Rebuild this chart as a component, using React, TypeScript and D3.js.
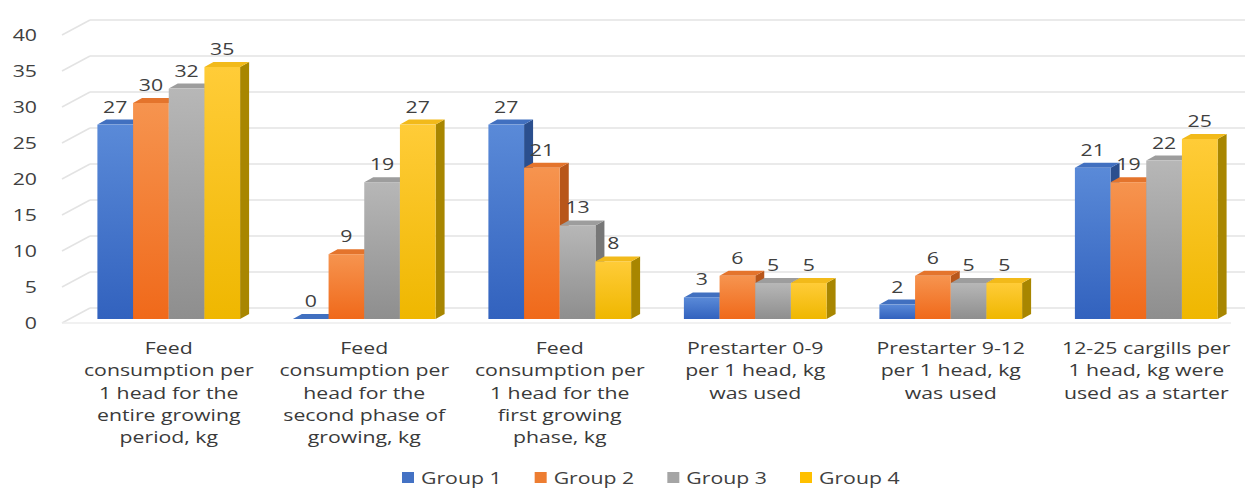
import React from "react";
import * as d3 from "d3";

// Feed consumption by group (kg)
const categories = [
  "entire",
  "second",
  "first",
  "pre09",
  "pre912",
  "starter",
];
const categoryLines: string[][] = [
  ["Feed", "consumption per", "1 head for the", "entire growing", "period, kg"],
  ["Feed", "consumption per", "head for the", "second phase of", "growing, kg"],
  ["Feed", "consumption per", "1 head for the", "first growing", "phase, kg"],
  ["Prestarter 0-9", "per 1 head, kg", "was used"],
  ["Prestarter 9-12", "per 1 head, kg", "was used"],
  ["12-25 cargills per", "1 head, kg were", "used as a starter"],
];
const groups = ["Group 1", "Group 2", "Group 3", "Group 4"];
const group1 = [27, 0, 27, 3, 2, 21];
const group2 = [30, 9, 21, 6, 6, 19];
const group3 = [32, 19, 13, 5, 5, 22];
const group4 = [35, 27, 8, 5, 5, 25];
const seriesValues = [group1, group2, group3, group4];
const yTicks = [0, 5, 10, 15, 20, 25, 30, 35, 40];

// Colors per series: legend swatch, front gradient, top face, side face
const swatch = ["#4472C4", "#ED7D31", "#A5A5A5", "#FFC000"];
const frontTop = ["#5a8ad8", "#f6944f", "#b7b7b7", "#ffcc38"];
const frontBottom = ["#3262be", "#f0691a", "#8e8e8e", "#efb700"];
const topFace = ["#4170c0", "#e4742c", "#9d9d9d", "#f2ba1a"];
const sideFace = ["#2b4f8e", "#b8561a", "#777777", "#a88600"];

const W = 1253;
const H = 488;
const FONT = "'Open Sans', sans-serif";
const SX = 1.25; // horizontal stretch of all text
const DX = 9; // bar depth offset
const DY = -5;
const WALL_DX = 28;

const yFront = d3.scaleLinear().domain([0, 40]).range([319, 31]);
const yBack = d3.scaleLinear().domain([0, 40]).range([308, 20]);
const x0 = d3.scaleBand<string>().domain(categories).range([71, 1244]).padding(0);
const x1 = d3
  .scaleBand<string>()
  .domain(groups)
  .range([0, x0.bandwidth()])
  .paddingInner(0)
  .paddingOuter(0.74);
const legendX = d3.scalePoint<string>().domain(groups).range([402, 800]);

const wallLeft = 62;
const wallBack = wallLeft + WALL_DX;
const gridRight = 1245;

function SText(props: {
  x: number;
  y: number;
  anchor?: "start" | "middle" | "end";
  size?: number;
  fill?: string;
  children: React.ReactNode;
}) {
  const { x, y, anchor = "middle", size = 17, fill = "#404040", children } = props;
  return (
    <text
      transform={`translate(${x},${y}) scale(${SX},1)`}
      textAnchor={anchor}
      fontFamily={FONT}
      fontSize={size}
      fill={fill}
    >
      {children}
    </text>
  );
}

export default function App() {
  const bw = x1.bandwidth();
  const y0 = yFront(0);
  return (
    <svg
      width={W}
      height={H}
      style={{ position: "absolute", left: 0, top: 0, background: "#fff" }}
    >
      <defs>
        {groups.map((g, i) => (
          <linearGradient key={g} id={`front${i}`} x1="0" y1="0" x2="0" y2="1">
            <stop offset="0" stopColor={frontTop[i]} />
            <stop offset="1" stopColor={frontBottom[i]} />
          </linearGradient>
        ))}
      </defs>

      {/* walls: gridlines */}
      {yTicks.map((t) => (
        <g key={t} stroke="#e3e3e3" strokeWidth={1.5} fill="none">
          <line x1={wallLeft} y1={yFront(t) + 4} x2={wallBack} y2={yBack(t)} />
          <line x1={wallBack} y1={yBack(t)} x2={gridRight} y2={yBack(t)} />
        </g>
      ))}
      <line
        x1={wallLeft}
        y1={y0 + 4}
        x2={gridRight - 14}
        y2={y0 + 4}
        stroke="#ececec"
        strokeWidth={1.5}
      />

      {/* y tick labels */}
      {yTicks.map((t) => (
        <SText key={t} x={37} y={yFront(t) + 10} anchor="end">
          {t}
        </SText>
      ))}

      {/* 3D columns */}
      {categories.map((c, ci) => (
        <g key={c}>
          {groups.map((g, gi) => {
            const v = seriesValues[gi][ci];
            const xl = (x0(c) as number) + (x1(g) as number);
            const xr = xl + bw;
            const yt = yFront(v);
            const side = `${xr},${yt} ${xr + DX},${yt + DY} ${xr + DX},${y0 + DY} ${xr},${y0}`;
            const top = `${xl},${yt} ${xl + DX},${yt + DY} ${xr + DX},${yt + DY} ${xr},${yt}`;
            return (
              <g key={g}>
                <polygon points={side} fill={sideFace[gi]} />
                <polygon points={top} fill={topFace[gi]} />
                {v > 0 && (
                  <rect x={xl} y={yt} width={bw} height={y0 - yt} fill={`url(#front${gi})`} />
                )}
              </g>
            );
          })}
        </g>
      ))}

      {/* data labels */}
      {categories.map((c, ci) =>
        groups.map((g, gi) => {
          const v = seriesValues[gi][ci];
          const xc = (x0(c) as number) + (x1(g) as number) + bw / 2;
          return (
            <SText key={`${c}-${g}`} x={xc} y={yFront(v) - 12}>
              {v}
            </SText>
          );
        })
      )}

      {/* category labels */}
      {categories.map((c, ci) => {
        const xc = (x0(c) as number) + x0.bandwidth() / 2;
        return (
          <g key={c}>
            {categoryLines[ci].map((line, li) => (
              <SText key={li} x={xc} y={354 + li * 22.3} fill="#3a3a3a">
                {line}
              </SText>
            ))}
          </g>
        );
      })}

      {/* legend */}
      {groups.map((g, gi) => {
        const lx = legendX(g) as number;
        return (
          <g key={g}>
            <rect x={lx} y={472} width={12} height={11} fill={swatch[gi]} />
            <SText x={lx + 19} y={484} anchor="start" fill="#404040">
              {g}
            </SText>
          </g>
        );
      })}
    </svg>
  );
}
